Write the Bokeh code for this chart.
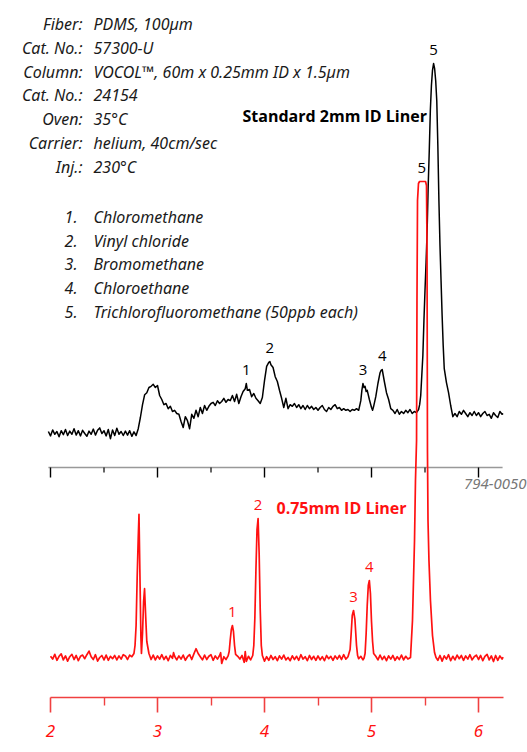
from bokeh.plotting import figure
from bokeh.models import Range1d, FixedTicker, Label, LabelSet, ColumnDataSource
from bokeh.core.properties import value
from bokeh.embed import file_html
from bokeh.resources import INLINE

# ---------------- data ----------------
# Standard 2mm ID liner (black trace): retention time (min), response (arbitrary units)
black_t = [1.98, 2.00, 2.02, 2.04, 2.06, 2.08, 2.10, 2.12, 2.14, 2.16, 2.18, 2.20, 2.22, 2.24,
           2.26, 2.28, 2.30, 2.32, 2.34, 2.36, 2.38, 2.40, 2.42, 2.44, 2.46, 2.48, 2.50, 2.52,
           2.54, 2.56, 2.58, 2.60, 2.62, 2.64, 2.66, 2.68, 2.70, 2.72, 2.74, 2.76, 2.78, 2.80,
           2.82, 2.84, 2.86, 2.88, 2.90, 2.92, 2.94, 2.96, 2.98, 3.00, 3.02, 3.04, 3.06, 3.08,
           3.10, 3.12, 3.14, 3.16, 3.18, 3.20, 3.22, 3.24, 3.26, 3.28, 3.30, 3.32, 3.34, 3.36,
           3.38, 3.40, 3.42, 3.44, 3.46, 3.48, 3.50, 3.52, 3.54, 3.56, 3.58, 3.60, 3.62, 3.64,
           3.66, 3.68, 3.70, 3.72, 3.74, 3.76, 3.78, 3.80, 3.82, 3.83, 3.84, 3.86, 3.88, 3.90,
           3.92, 3.94, 3.96, 3.98, 4.00, 4.02, 4.04, 4.05, 4.06, 4.08, 4.10, 4.12, 4.14, 4.16,
           4.18, 4.20, 4.22, 4.24, 4.26, 4.28, 4.30, 4.32, 4.34, 4.36, 4.38, 4.40, 4.42, 4.44,
           4.46, 4.48, 4.50, 4.52, 4.54, 4.56, 4.58, 4.60, 4.62, 4.64, 4.66, 4.68, 4.70, 4.72,
           4.74, 4.76, 4.78, 4.80, 4.82, 4.84, 4.86, 4.88, 4.90, 4.91, 4.92, 4.93, 4.94, 4.95,
           4.96, 4.98, 5.00, 5.01, 5.02, 5.04, 5.06, 5.08, 5.09, 5.10, 5.11, 5.12, 5.14, 5.16,
           5.18, 5.20, 5.22, 5.24, 5.26, 5.28, 5.30, 5.32, 5.34, 5.36, 5.38, 5.40, 5.42, 5.44,
           5.45, 5.46, 5.47, 5.48, 5.49, 5.50, 5.51, 5.52, 5.53, 5.54, 5.55, 5.56, 5.57, 5.58,
           5.59, 5.60, 5.61, 5.62, 5.63, 5.64, 5.65, 5.66, 5.67, 5.68, 5.70, 5.72, 5.74, 5.76,
           5.78, 5.80, 5.82, 5.84, 5.86, 5.88, 5.90, 5.92, 5.94, 5.96, 5.98, 6.00, 6.02, 6.04,
           6.06, 6.08, 6.10, 6.12, 6.14, 6.16, 6.18, 6.20, 6.22, 6.23]
black_v = [0.5, -0.6, 0.9, -0.2, 0.5, -0.8, 0.7, -0.3, 1.0, -0.5, 0.6, -0.2, 1.2, -0.4,
           0.7, -0.6, 0.8, 0.0, -0.7, 0.6, -0.2, 1.1, -0.4, 0.8, 1.4, 0.0, 0.7, -0.6,
           1.0, -1.3, 0.9, -0.5, 1.3, -0.2, 0.5, -0.5, 0.6, -0.4, 0.7, -0.7, 0.4, -0.5,
           1.2, 4.0, 7.2, 9.7, 10.2, 11.5, 11.8, 12.3, 11.5, 12.0, 9.5, 8.5, 7.2, 7.5,
           6.2, 6.8, 5.5, 5.8, 5.0, 4.8, 3.0, 1.5, 4.2, 3.2, 1.2, 4.8, 3.8, 5.8,
           4.2, 6.5, 5.0, 7.0, 5.8, 6.8, 7.5, 7.8, 7.0, 8.2, 7.5, 8.0, 8.8, 7.8,
           8.5, 8.2, 9.5, 8.0, 9.8, 7.5, 9.2, 10.5, 11.2, 12.5, 10.8, 11.0, 9.2, 10.0,
           8.8, 8.2, 7.5, 9.0, 13.2, 16.8, 17.8, 18.0, 17.2, 16.5, 14.2, 13.0, 10.8, 8.8,
           6.5, 8.8, 6.2, 7.2, 6.8, 7.5, 6.5, 7.2, 6.2, 7.0, 6.0, 7.0, 6.2, 6.8,
           6.0, 6.5, 5.8, 6.5, 7.0, 6.0, 5.5, 6.5, 6.0, 6.8, 7.2, 6.2, 6.5, 5.8,
           6.2, 5.8, 6.0, 5.5, 6.0, 5.8, 6.2, 5.8, 8.2, 10.8, 12.5, 11.5, 11.8, 10.5,
           10.8, 8.5, 6.5, 5.8, 6.8, 9.2, 12.5, 15.2, 15.8, 16.0, 14.5, 13.0, 10.2, 8.5,
           6.2, 5.8, 5.0, 6.0, 4.8, 5.5, 5.0, 5.8, 5.2, 6.0, 5.0, 5.5, 5.2, 6.0,
           7.2, 9.5, 14.5, 19.5, 28.2, 35.8, 42.8, 50.8, 62.0, 70.8, 80.8, 87.0, 90.8, 92.5,
           91.2, 88.2, 83.2, 72.0, 58.2, 47.0, 38.2, 29.5, 22.0, 16.2, 12.8, 10.2, 7.0, 4.2,
           5.0, 4.2, 5.5, 4.8, 5.8, 5.0, 4.2, 5.2, 4.5, 5.5, 4.5, 5.2, 4.2, 5.0,
           5.5, 4.5, 4.8, 3.8, 5.2, 4.5, 4.0, 5.5, 4.8, 5.0]

# 0.75mm ID liner (red trace)
red_t = [2.00, 2.02, 2.04, 2.06, 2.08, 2.10, 2.12, 2.14, 2.16, 2.18, 2.20, 2.22, 2.24, 2.26,
         2.28, 2.30, 2.32, 2.34, 2.36, 2.38, 2.40, 2.42, 2.44, 2.46, 2.48, 2.50, 2.52, 2.54,
         2.56, 2.58, 2.60, 2.62, 2.64, 2.66, 2.68, 2.70, 2.72, 2.74, 2.76, 2.78, 2.79, 2.80,
         2.81, 2.82, 2.827, 2.835, 2.845, 2.85, 2.86, 2.87, 2.879, 2.89, 2.90, 2.92, 2.94, 2.96,
         2.98, 3.00, 3.02, 3.04, 3.06, 3.08, 3.10, 3.12, 3.14, 3.15, 3.16, 3.18, 3.20, 3.22,
         3.24, 3.26, 3.28, 3.30, 3.32, 3.34, 3.36, 3.38, 3.40, 3.42, 3.44, 3.46, 3.48, 3.50,
         3.52, 3.54, 3.56, 3.58, 3.59, 3.60, 3.62, 3.64, 3.66, 3.67, 3.68, 3.69, 3.70, 3.71,
         3.72, 3.73, 3.75, 3.77, 3.79, 3.81, 3.82, 3.83, 3.85, 3.87, 3.89, 3.90, 3.91, 3.92,
         3.93, 3.94, 3.95, 3.96, 3.97, 3.98, 4.00, 4.02, 4.04, 4.06, 4.08, 4.10, 4.12, 4.14,
         4.16, 4.18, 4.20, 4.22, 4.24, 4.26, 4.28, 4.30, 4.32, 4.34, 4.36, 4.38, 4.40, 4.42,
         4.44, 4.46, 4.48, 4.50, 4.52, 4.54, 4.56, 4.58, 4.60, 4.62, 4.64, 4.66, 4.68, 4.70,
         4.72, 4.74, 4.76, 4.78, 4.80, 4.81, 4.82, 4.832, 4.845, 4.86, 4.87, 4.88, 4.90, 4.92,
         4.93, 4.94, 4.95, 4.96, 4.97, 4.98, 4.99, 5.00, 5.01, 5.02, 5.04, 5.06, 5.08, 5.10,
         5.12, 5.14, 5.16, 5.18, 5.20, 5.22, 5.24, 5.26, 5.28, 5.30, 5.32, 5.34, 5.3645, 5.383,
         5.402, 5.411, 5.421, 5.425, 5.430, 5.439, 5.449, 5.505, 5.514, 5.519, 5.523, 5.528, 5.537, 5.551,
         5.570, 5.589, 5.603, 5.62, 5.64, 5.66, 5.68, 5.70, 5.72, 5.74, 5.76, 5.78, 5.80, 5.82,
         5.84, 5.86, 5.88, 5.90, 5.92, 5.94, 5.96, 5.98, 6.00, 6.02, 6.04, 6.06, 6.08, 6.10,
         6.12, 6.14, 6.16, 6.18, 6.20, 6.22, 6.23]
red_v = [0.3, -0.4, 0.8, -0.7, 0.3, 0.9, -0.6, 0.4, -0.9, 0.2, 0.8, -0.5, 0.5, -0.8,
         0.3, 0.6, -0.3, 0.7, 1.6, 0.2, -0.5, 0.7, -0.9, 0.0, 0.5, -0.6, 0.6, -0.7,
         0.3, -0.3, 0.5, -0.6, 0.4, -0.4, 0.7, 0.4, -0.5, 0.6, 0.2, 1.0, 3.0, 8.0,
         20.0, 30.0, 35.8, 22.0, 5.0, 1.0, 6.0, 14.0, 17.2, 10.0, 4.0, 1.0, -0.5, 0.6,
         -0.6, 0.4, -0.4, 0.7, -0.5, 0.3, -0.8, 0.5, -0.2, 1.2, 0.3, -0.6, 0.4, -0.4,
         0.6, -0.7, 0.2, 0.7, -0.5, 0.9, 2.2, 1.0, 0.2, -0.6, 0.6, -0.5, 0.3, 0.7,
         -0.7, 0.4, -0.4, 0.5, 1.2, -1.5, 0.2, -0.5, 0.4, 1.5, 4.5, 7.0, 8.0, 6.5,
         3.0, 0.8, 0.3, -0.4, 0.5, -1.2, 1.5, -1.0, 0.3, -0.6, 0.5, 3.0, 10.0, 22.0,
         32.0, 34.75, 26.0, 12.0, 3.0, 0.5, -0.9, 0.2, -0.7, 0.5, -0.5, 0.2, -0.8, 0.4,
         -0.4, 0.6, -0.6, 0.0, -0.8, 0.4, -0.5, 0.3, -0.7, 0.7, -0.4, 0.2, -0.8, 0.5,
         -0.5, 0.3, -0.7, 0.4, -0.6, 0.2, -0.8, 0.5, -0.3, 0.3, -0.7, 0.4, -0.4, 0.5,
         -0.5, 0.7, -0.4, 0.2, 2.0, 6.0, 10.5, 11.75, 9.5, 3.0, 0.5, -0.3, 0.3, -0.6,
         -0.2, 1.0, 6.0, 13.0, 18.0, 19.25, 16.0, 9.0, 4.0, 1.0, 0.3, -0.6, 0.6, -0.5,
         0.3, -0.8, 0.4, -0.4, 0.5, -0.7, 0.2, -0.5, 0.6, -0.6, 0.3, -0.4, 0.0, 9.25,
         29.25, 44.25, 54.25, 89.25, 114.25, 118.5, 119.0, 119.0, 118.0, 101.75, 51.75, 34.25, 24.25, 14.25,
         5.5, 1.25, 0.0, -0.7, 0.5, -0.9, 0.4, -0.4, 0.7, -0.8, 0.3, -0.6, 0.6, -0.3,
         0.5, -0.7, 0.4, -0.4, 0.7, -0.6, 0.2, 0.6, -0.5, 0.5, -0.8, 0.3, 0.8, -0.6,
         0.4, -1.0, 0.5, -0.7, 0.4, -0.4, 0.1]

black_offset = 56.0          # vertical offset of the upper chromatogram
axis_ticks = [2, 3, 4, 5, 6]
axis_minor = [2.5, 3.5, 4.5, 5.5]
axis_end = 6.23

black_peak_t = [3.83, 4.05, 4.92, 5.10, 5.58]
black_peak_v = [12.5, 18.0, 12.5, 16.0, 92.5]
black_peak_lab = ["1", "2", "3", "4", "5"]
red_peak_t = [3.70, 3.94, 4.832, 4.98, 5.47]
red_peak_v = [8.0, 34.75, 11.75, 19.25, 119.0]
red_peak_lab = ["1", "2", "3", "4", "5"]

info_keys = ["Fiber:", "Cat. No.:", "Column:", "Cat. No.:", "Oven:", "Carrier:", "Inj.:"]
info_vals = ["PDMS, 100µm", "57300-U", "VOCOL™, 60m x 0.25mm ID x 1.5µm", "24154",
             "35°C", "helium, 40cm/sec", "230°C"]
cmp_num = ["1.", "2.", "3.", "4.", "5."]
cmp_names = ["Chloromethane", "Vinyl chloride", "Bromomethane", "Chloroethane",
             "Trichlorofluoromethane (50ppb each)"]

RED = "#ff1111"
FONT = "Open Sans"
IFONT = "Noto Sans"

# ---------------- figure ----------------
W, H, FB = 527, 752, 697     # frame bottom at 697 px
p = figure(width=W, height=H, x_range=Range1d(1.5327, 6.4579), y_range=Range1d(-10, 164.25),
           output_backend="svg", toolbar_location=None, y_axis_location=None,
           min_border_left=0, min_border_right=0, min_border_top=0, min_border_bottom=H - FB)
p.grid.visible = False
p.outline_line_color = None
p.background_fill_color = "white"
p.border_fill_color = "white"

ax = p.xaxis[0]
ax.ticker = FixedTicker(ticks=axis_ticks, minor_ticks=axis_minor)
ax.bounds = (axis_ticks[0], axis_end)
ax.axis_line_color = "#f04040"
ax.axis_line_width = 1.6
ax.major_tick_line_color = "#f04040"
ax.minor_tick_line_color = "#f04040"
ax.major_tick_line_width = 1.6
ax.minor_tick_line_width = 1.4
ax.major_tick_in = 0
ax.major_tick_out = 15
ax.minor_tick_in = 0
ax.minor_tick_out = 8
ax.major_label_standoff = 12
ax.major_label_text_color = RED
ax.major_label_text_font = IFONT
ax.major_label_text_font_style = "italic"
ax.major_label_text_font_size = "17px"

# upper (black) axis drawn in the plot area
ya = black_offset - 8.5
p.segment(x0=[black_t[0]], y0=[ya], x1=[axis_end - 0.005], y1=[ya], line_color="#999999", line_width=1.6)
p.segment(x0=axis_ticks, y0=[ya] * len(axis_ticks), x1=axis_ticks, y1=[ya - 2.5] * len(axis_ticks),
          line_color="black", line_width=1.4)
p.segment(x0=axis_minor, y0=[ya] * len(axis_minor), x1=axis_minor, y1=[ya - 1.25] * len(axis_minor),
          line_color="black", line_width=1.2)

# traces
p.line(black_t, [v + black_offset for v in black_v], line_color="black", line_width=1.5, line_join="round")
p.line(red_t, red_v, line_color=RED, line_width=1.7, line_join="round")

# peak labels
p.text(x=black_peak_t, y=[v + black_offset for v in black_peak_v], text=black_peak_lab,
       y_offset=-14, text_align="center", text_baseline="middle", text_color="black",
       text_font=value(FONT), text_font_size="15px")
red_cols = [RED, RED, RED, RED, "black"]
p.text(x=red_peak_t, y=red_peak_v, text=red_peak_lab, y_offset=-14, text_align="center",
       text_baseline="middle", text_color=red_cols, text_font=value(FONT), text_font_size="15px")


def sy(img_y):
    return FB - img_y


# text blocks (screen units)
n = len(info_keys)
info_y = [sy(23.5 + 23.8 * i) for i in range(n)]
common = dict(x_units="screen", y_units="screen", text_baseline="middle", text_font=value(IFONT),
              text_font_style="italic", text_font_size="16px", text_color="#1a1a1a")
p.add_layout(LabelSet(source=ColumnDataSource(dict(x=[82] * n, y=info_y, t=info_keys)), x="x", y="y",
                      text="t", text_align="right", **common))
p.add_layout(LabelSet(source=ColumnDataSource(dict(x=[93] * n, y=info_y, t=info_vals)), x="x", y="y",
                      text="t", text_align="left", **common))
m = len(cmp_num)
cmp_y = [sy(216.5 + 23.7 * i) for i in range(m)]
p.add_layout(LabelSet(source=ColumnDataSource(dict(x=[77] * m, y=cmp_y, t=cmp_num)), x="x", y="y",
                      text="t", text_align="right", **common))
p.add_layout(LabelSet(source=ColumnDataSource(dict(x=[93] * m, y=cmp_y, t=cmp_names)), x="x", y="y",
                      text="t", text_align="left", **common))

p.add_layout(Label(x=242, y=sy(115), x_units="screen", y_units="screen", text="Standard 2mm ID Liner",
                   text_baseline="middle", text_font=FONT, text_font_style="bold",
                   text_font_size="16px", text_color="black"))
p.add_layout(Label(x=276, y=sy(507), x_units="screen", y_units="screen", text="0.75mm ID Liner",
                   text_baseline="middle", text_font=FONT, text_font_style="bold",
                   text_font_size="16px", text_color=RED))
p.add_layout(Label(x=526, y=sy(483), x_units="screen", y_units="screen", text="794-0050",
                   text_align="right", text_baseline="middle", text_font=IFONT, text_font_style="italic",
                   text_font_size="15px", text_color="#777777"))
p.add_layout(Label(x=526, y=sy(744), x_units="screen", y_units="screen", text="794-0051",
                   text_align="right", text_baseline="middle", text_font=IFONT, text_font_style="italic",
                   text_font_size="15px", text_color="#777777"))

open("out.html", "w").write(file_html(p, INLINE))
